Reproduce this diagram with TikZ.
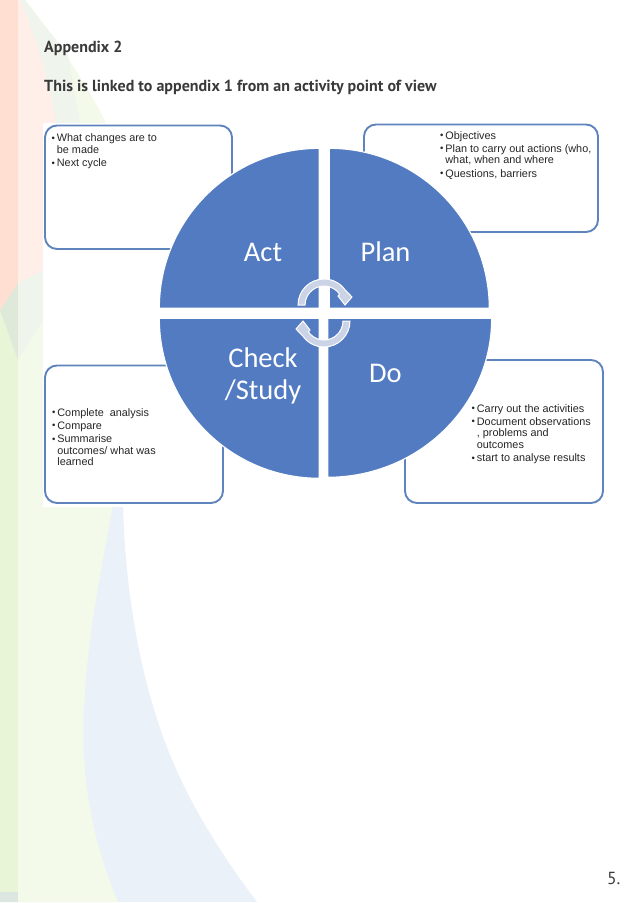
\documentclass[tikz,border=0pt]{standalone}
\usepackage{fontspec}
\setmainfont{Liberation Sans}
\newfontfamily\headfont{PT Sans}
\newfontfamily\labfont{Carlito}
\definecolor{cyclblue}{HTML}{527BC1}
\definecolor{edgeblue}{HTML}{5F83BC}
\definecolor{pagepink}{HTML}{FFDFD2}
\definecolor{pagegrey}{HTML}{DFE9D9}
\definecolor{pagegreen}{HTML}{E8F5D6}
\definecolor{pageblue}{HTML}{D7E3F3}
\definecolor{headink}{HTML}{3A3A3A}
\definecolor{arcfill}{HTML}{CBD3E6}
\tikzset{
  notebox/.style={draw=edgeblue,line width=1.9pt,rounded corners=12pt},
  notetext/.style={anchor=north west,align=left,inner sep=0pt,text=black!85,
    font=\fontsize{10.85}{11.6}\selectfont},
  quadrant/.style={fill=cyclblue,draw=white,line width=1.2pt},
  quadlabel/.style={text=white,align=center,inner sep=0pt,
    font=\labfont\fontsize{28.5}{32}\selectfont},
  headline/.style={anchor=base west,inner sep=0pt,text=headink,
    font=\headfont\bfseries\fontsize{16}{18}\selectfont},
  turnarc/.style={fill=arcfill,draw=white,line width=1pt,line join=miter}
}
\def\itm{\makebox[5.2pt][l]{\raisebox{0.3pt}{\fontsize{9.5}{9.5}\selectfont\textbullet}}}
\begin{document}
\begin{tikzpicture}[x=1pt,y=-1pt]
\useasboundingbox (0,0) rectangle (638,903);
% page background
\fill[pageblue] (0,480) -- (123,480) .. controls (122,580) and (140,690) .. (177,771)
  .. controls (195,812) and (225,860) .. (257,902) -- (0,902) -- cycle;
\fill[pagegreen] (0,0) -- (25,0) .. controls (50,30) and (85,80) .. (107,125) -- (113,505)
  .. controls (95,600) and (80,680) .. (84,760) .. controls (87,810) and (100,860) .. (118,902)
  -- (0,902) -- cycle;
\fill[pagegrey] (20,0) -- (25,0) .. controls (40,22) and (55,38) .. (68,55) -- (80,123)
  -- (43,320) -- (18,360) -- (0,310) -- cycle;
\fill[pagepink] (0,0) -- (20,0) .. controls (35,35) and (52,90) .. (57,130) -- (43,270)
  -- (18,283) -- (0,310) -- cycle;
\fill[pagegrey!70!pageblue] (0,892) rectangle (18,902);
\fill[white,opacity=0.5] (18,0) rectangle (638,903);
\fill[white] (43,123) rectangle (638,507);
% heading
\node[headline] (head1) at (44,52) {Appendix 2};
\node[headline] (head2) at (44,91) {This is linked to appendix 1 from an activity point of view};
\node[anchor=base west,inner sep=0pt,text=headink,font=\headfont\fontsize{17.5}{19}\selectfont]
  (pagenum) at (607,884) {5.};
% note boxes
\draw[notebox] (45,125.5) rectangle (232,249);
\draw[notebox] (364,124.5) rectangle (598,232);
\draw[notebox] (45,365.5) rectangle (223,503);
\draw[notebox] (405,360) rectangle (603,503);
\node[notetext] (noteact) at (51.5,133.5)
  {\itm What changes are to\\\hspace*{5.2pt}be made\\[1.6pt]\itm Next cycle};
\node[notetext] (noteplan) at (440,131)
  {\itm Objectives\\[1.6pt]\itm Plan to carry out actions (who,\\\hspace*{5.2pt}what, when and where\\[1.6pt]\itm Questions, barriers};
\node[notetext] (notecheck) at (52,408)
  {\itm Complete\ \ analysis\\[1.6pt]\itm Compare\\[1.6pt]\itm Summarise\\\hspace*{5.2pt}outcomes/ what was\\\hspace*{5.2pt}learned};
\node[notetext] (notedo) at (471.5,404)
  {\itm Carry out the activities\\[1.6pt]\itm Document observations\\\hspace*{5.2pt}, problems and\\\hspace*{5.2pt}outcomes\\[1.6pt]\itm start to analyse results};
% cycle quadrants
\draw[quadrant] (319.3,308.3) -- (159.3,308.3) arc[start angle=180,end angle=270,radius=160] -- cycle;
\draw[quadrant] (329.3,308.3) -- (329.3,148.3) arc[start angle=270,end angle=360,radius=160] -- cycle;
\draw[quadrant] (319.3,318.3) -- (319.3,478.3) arc[start angle=90,end angle=180,radius=160] -- cycle;
\draw[quadrant] (327.7,318.3) -- (491.7,318.3) arc[start angle=0,end angle=90,x radius=164,y radius=159] -- cycle;
\node[quadlabel] (act) at (263,252) {Act};
\node[quadlabel] (plan) at (385.5,252) {Plan};
\node[quadlabel] (check) at (263,376) {Check\\/Study};
\node[quadlabel] (do) at (385.5,373.5) {Do};
% turning arrows
\draw[turnarc] (298,305) arc[start angle=180,end angle=325,radius=26]
  -- (352,297) -- (345,305) -- (338,296) -- (339.6,294.1)
  arc[start angle=325,end angle=180,radius=19] -- cycle;
\draw[turnarc] (350,321) arc[start angle=0,end angle=145,radius=26]
  -- (296,329) -- (303,321) -- (310,330) -- (308.4,331.9)
  arc[start angle=145,end angle=0,radius=19] -- cycle;
\end{tikzpicture}
\end{document}
